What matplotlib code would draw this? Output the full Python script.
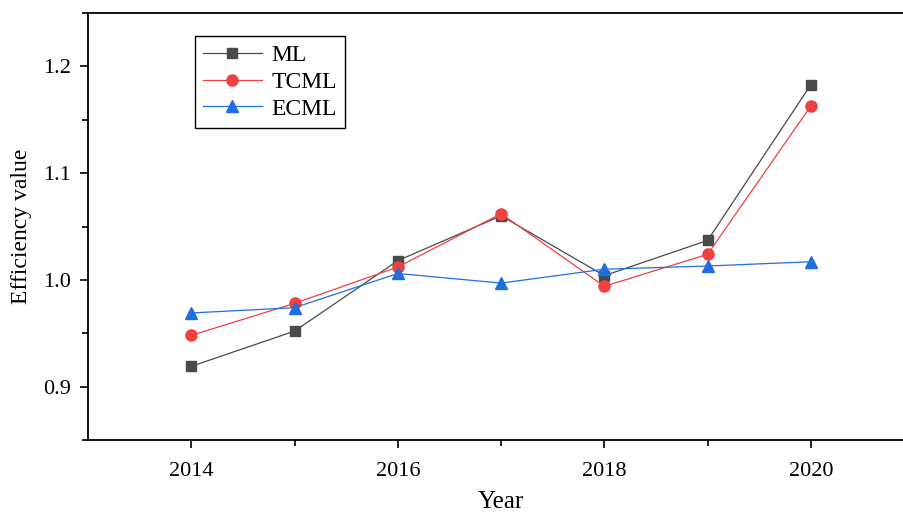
import numpy as np
import matplotlib.pyplot as plt

plt.rcParams['font.family'] = ['Liberation Serif', 'DejaVu Serif']

years = [2014, 2015, 2016, 2017, 2018, 2019, 2020]
ml = [0.919, 0.952, 1.018, 1.060, 1.004, 1.037, 1.183]
tcml = [0.948, 0.978, 1.012, 1.062, 0.994, 1.024, 1.163]
ecml = [0.969, 0.974, 1.006, 0.997, 1.010, 1.013, 1.017]

fig = plt.figure(figsize=(9.04, 5.12), dpi=100)
ax = fig.add_axes([0.0973, 0.1406, 0.914, 0.834])

ax.plot(years, ml, color='#4a4a4a', lw=0.9, marker='s', ms=7, label='ML')
ax.plot(years, tcml, color='#f0403f', lw=0.9, marker='o', ms=8, label='TCML')
ax.plot(years, ecml, color='#1f6fe0', lw=0.9, marker='^', ms=9, label='ECML')

ax.set_xlim(2013, 2021)
ax.set_ylim(0.85, 1.25)
ax.set_xticks([2014, 2016, 2018, 2020])
ax.set_xticks([2015, 2017, 2019], minor=True)
ax.set_yticks([0.9, 1.0, 1.1, 1.2])
ax.set_yticks([0.85, 0.95, 1.05, 1.15, 1.25], minor=True)
ax.yaxis.set_major_formatter(plt.FormatStrFormatter('%.1f'))
ax.tick_params(which='major', direction='out', length=6, width=1.2, labelsize=16)
ax.tick_params(axis='x', which='major', pad=10)
ax.tick_params(axis='y', which='major', pad=6)
ax.tick_params(which='minor', direction='out', length=4, width=1.2)
for s in ax.spines.values():
    s.set_linewidth(1.3)

ax.set_xlabel('Year', fontsize=18)
ax.xaxis.set_label_coords(0.5, -0.12)
ax.set_ylabel('Efficiency value', fontsize=17)
ax.yaxis.set_label_coords(-0.068, 0.5)

leg = ax.legend(loc='upper left', bbox_to_anchor=(0.129, 0.945), fontsize=17,
                fancybox=False, edgecolor='black', framealpha=1,
                handlelength=2.5, borderpad=0.35, labelspacing=0.22,
                handletextpad=0.4, borderaxespad=0)
leg.get_frame().set_linewidth(1.0)

fig.savefig('out.png', dpi=100)
